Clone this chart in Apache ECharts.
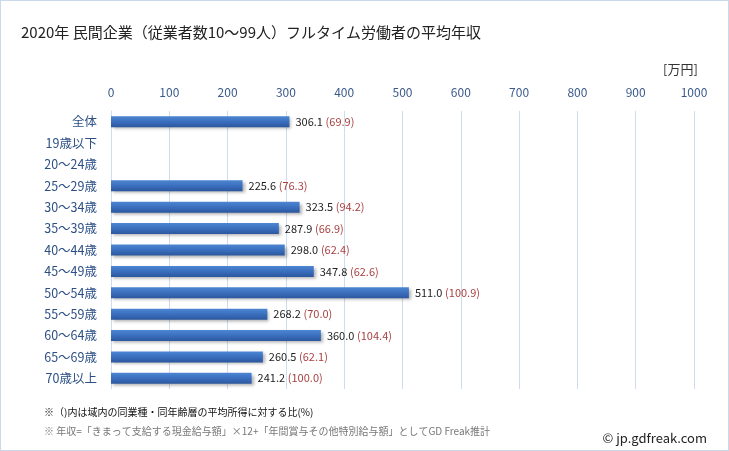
<!DOCTYPE html>
<html><head><meta charset="utf-8">
<script src="https://cdn.jsdelivr.net/npm/echarts@6/dist/echarts.min.js"></script>
<style>html,body{margin:0;padding:0;background:#fff}#c{width:729px;height:451px;box-sizing:border-box;border:1px solid #c9d9ea}</style>
</head><body><div id="c"></div>
<script>
const categories = ['全体','19歳以下','20〜24歳','25〜29歳','30〜34歳','35〜39歳','40〜44歳','45〜49歳','50〜54歳','55〜59歳','60〜64歳','65〜69歳','70歳以上'];
const salary = [306.1, null, null, 225.6, 323.5, 287.9, 298.0, 347.8, 511.0, 268.2, 360.0, 260.5, 241.2];
const ratio = [69.9, null, null, 76.3, 94.2, 66.9, 62.4, 62.6, 100.9, 70.0, 104.4, 62.1, 100.0];
const xTicks = [0,100,200,300,400,500,600,700,800,900,1000];

const chart = echarts.init(document.getElementById('c'), null, {renderer:'canvas'});
const ff = '"Noto Sans CJK JP","Noto Sans",sans-serif';
chart.setOption({
  animation:false,
  textStyle:{fontFamily:ff},
  title:[
    {text:'2020年 民間企業（従業者数10〜99人）フルタイム労働者の平均年収',left:15,top:19,textStyle:{fontSize:15,fontWeight:'normal',color:'#222',fontFamily:ff}},
    {text:'[万円]',left:657,top:57,textStyle:{fontSize:13,fontWeight:'normal',color:'#333',fontFamily:ff}},
    {text:'※（)内は域内の同業種・同年齢層の平均所得に対する比(%)',left:38,top:401,textStyle:{fontSize:10,fontWeight:'normal',color:'#111',fontFamily:ff}},
    {text:'※ 年収=「きまって支給する現金給与額」×12+「年間賞与その他特別給与額」としてGD Freak推計',left:38,top:420,textStyle:{fontSize:10,fontWeight:'normal',color:'#777',fontFamily:ff}},
    {text:'© jp.gdfreak.com',right:16,top:426,textStyle:{fontSize:13,fontWeight:'normal',color:'#222',fontFamily:ff}}
  ],
  grid:{left:110,right:34,top:110,bottom:61,containLabel:false},
  xAxis:{type:'value',position:'top',min:0,max:1000,interval:100,
    axisLine:{show:false},axisTick:{show:false},
    axisLabel:{color:'#3a5a8c',fontSize:12,margin:13,fontFamily:ff,formatter:v=>xTicks.includes(v)?String(v):''},
    splitLine:{show:true,lineStyle:{color:'#cddcee',width:1}}},
  yAxis:{type:'category',data:categories,inverse:true,
    axisLine:{show:true,lineStyle:{color:'#cddcee'}},axisTick:{show:false},
    axisLabel:{color:'#2c4f85',fontSize:12.5,margin:14,fontFamily:ff}},
  series:[{type:'bar',data:salary,barWidth:11,
    itemStyle:{color:new echarts.graphic.LinearGradient(0,0,0,1,[{offset:0,color:'#4d86d2'},{offset:0.5,color:'#3a6fbe'},{offset:1,color:'#2b579e'}]),
      shadowColor:'rgba(0,0,0,0.3)',shadowBlur:3,shadowOffsetX:2,shadowOffsetY:2},
    label:{show:true,position:'right',distance:6,
      formatter:p=>p.value==null?'':'{a|'+p.value.toFixed(1)+'} {b|('+ratio[p.dataIndex].toFixed(1)+')}',
      rich:{a:{color:'#222',fontSize:11,fontFamily:ff},b:{color:'#a84040',fontSize:11,fontFamily:ff}}}
  }]
});
</script></body></html>
